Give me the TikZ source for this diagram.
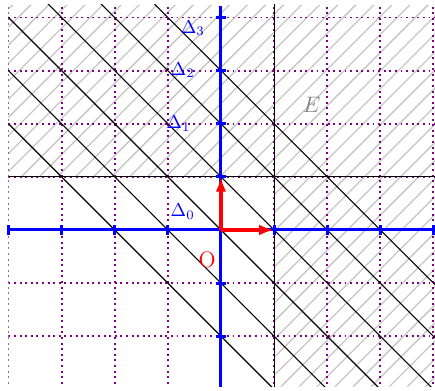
\documentclass[tikz,border=0pt]{standalone}
\usetikzlibrary{arrows.meta}
\tikzset{
  hachure/.style={gray!45,line width=0.7pt},
  grille/.style={violet,dotted,line width=1pt},
  droite/.style={black,line width=0.6pt},
  axe/.style={blue,line width=1.6pt},
  vecteur/.style={red,line width=2pt,-{Latex[length=2.8mm,width=2mm]}},
  etiq/.style={blue,inner sep=0pt}
}
\begin{document}
\begin{tikzpicture}
\useasboundingbox (-4.16,-3.03) rectangle (4.03,4.33);
\begin{scope}
  \clip (-4,-2.95) rectangle (4.03,4.24);
  % hachures de E
  \begin{scope}
    \clip (-4,1) rectangle (4.03,4.24) (1,-2.95) rectangle (4.03,1);
    \foreach \k in {-22,...,25}
      \draw[hachure] (-4,-4+\k*0.34) -- ++(9,9);
  \end{scope}
  \draw[grille] (-4,-3) grid (4.03,4.24);
  % droites x+y=c
  \foreach \c in {-2,...,3}
    \draw[droite] (\c-5,5) -- (\c+5,-5);
  \draw[droite] (1,-3.1) -- (1,4.3);
  \draw[droite] (-4,1) -- (4.1,1);
\end{scope}
% axes
\draw[axe] (-4,0) -- (4.03,0);
\draw[axe] (0,-2.95) -- (0,4.22);
\foreach \x in {-4,...,4}
  \draw[axe] (\x,-0.1) -- (\x,0.1);
\foreach \y in {-2,...,4}
  \draw[axe] (-0.1,\y) -- (0.1,\y);
% repere
\coordinate (O) at (0,0);
\coordinate (I) at (1,0);
\coordinate (J) at (0,1);
\draw[vecteur] (O) -- (I);
\draw[vecteur] (O) -- (J);
\node[red,font=\large] (labO) at (-0.26,-0.56) {O};
\node[gray,font=\large] (labE) at (1.71,2.35) {$E$};
\node[etiq] (d0) at (-0.72,0.34) {$\Delta_0$};
\node[etiq] (d1) at (-0.8,2.01) {$\Delta_1$};
\node[etiq] (d2) at (-0.72,3.01) {$\Delta_2$};
\node[etiq] (d3) at (-0.53,3.8) {$\Delta_3$};
\end{tikzpicture}
\end{document}
